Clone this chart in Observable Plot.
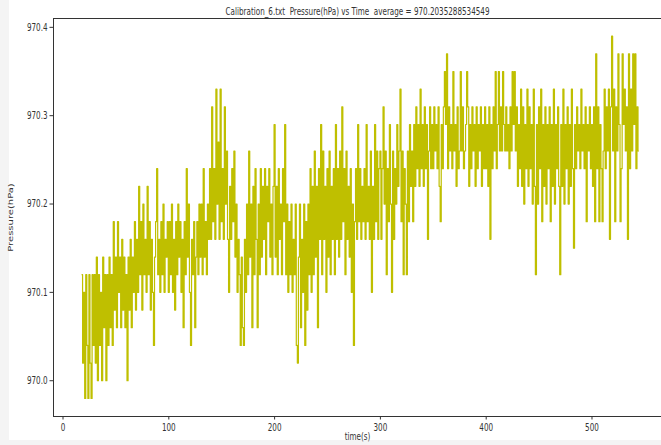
<!DOCTYPE html>
<html>
<head>
<meta charset="utf-8">
<script src="https://cdn.jsdelivr.net/npm/d3@7"></script>
<script src="https://cdn.jsdelivr.net/npm/@observablehq/plot@0.6"></script>
<style>
  html, body { margin: 0; padding: 0; }
  body { background: #f4f4f4; }
  #wrap { position: relative; width: 661px; height: 445px; overflow: hidden; }
  #paper { position: absolute; left: 9px; top: 0; width: 652px; height: 440px; background: #ffffff; }
  #chart { position: absolute; left: 0; top: 0; }
  #chart svg { white-space: pre; }
</style>
</head>
<body>
<div id="wrap"><div id="paper"></div><div id="chart"></div></div>
<script>
const T0 = 18;   // first sample time (s)
const DT = 1;    // sample interval (s)

const pressure018 = [
970.12, 970.02, 970.10, 969.98, 970.12, 970.04, 969.98, 970.12, 970.02, 969.98,
970.12, 970.04, 970.12, 970.02, 970.14, 970.00, 970.12, 970.04, 970.10, 970.00,
970.14, 970.06, 970.12, 970.00, 970.12, 970.04, 970.14, 970.06, 970.12, 970.04,
970.18, 970.08, 970.14, 970.06, 970.18, 970.10, 970.14, 970.06, 970.16, 970.08,
970.14, 970.06, 970.12, 970.00, 970.14, 970.08, 970.16, 970.06, 970.14, 970.10,
970.18, 970.08, 970.16, 970.10, 970.22, 970.12, 970.18, 970.08, 970.20, 970.12,
970.16, 970.10, 970.22, 970.12, 970.18, 970.08, 970.16, 970.10, 970.04, 970.14,
970.18, 970.24, 970.12, 970.16, 970.10, 970.18, 970.12, 970.20, 970.10, 970.16,
970.14, 970.18
];
const pressure100 = [
970.10, 970.18, 970.12, 970.20, 970.10, 970.16, 970.08, 970.18, 970.12, 970.20,
970.14, 970.18, 970.10, 970.16, 970.06, 970.18, 970.12, 970.24, 970.14, 970.20,
970.10, 970.04, 970.16, 970.12, 970.18, 970.06, 970.14, 970.18, 970.12, 970.20,
970.14, 970.20, 970.12, 970.24, 970.14, 970.18, 970.12, 970.20, 970.16, 970.24,
970.16, 970.31, 970.18, 970.24, 970.16, 970.33, 970.20, 970.27, 970.16, 970.33,
970.18, 970.24, 970.16, 970.31, 970.20, 970.26, 970.16, 970.10, 970.22, 970.16,
970.24, 970.18, 970.26, 970.14, 970.20, 970.10, 970.16, 970.12, 970.04, 970.14,
970.06, 970.04, 970.16, 970.10, 970.20, 970.12, 970.26, 970.14, 970.20, 970.06,
970.22, 970.12, 970.24, 970.16, 970.06, 970.20, 970.12, 970.24, 970.14, 970.22,
970.16, 970.24, 970.12, 970.22, 970.18, 970.24, 970.14, 970.20, 970.12, 970.22
];
const pressure200 = [
970.29, 970.14, 970.22, 970.12, 970.24, 970.16, 970.20, 970.12, 970.24, 970.18,
970.29, 970.12, 970.20, 970.10, 970.18, 970.12, 970.20, 970.10, 970.16, 970.12,
970.20, 970.04, 970.02, 970.14, 970.20, 970.06, 970.16, 970.10, 970.20, 970.04,
970.18, 970.08, 970.20, 970.12, 970.24, 970.10, 970.22, 970.12, 970.26, 970.14,
970.22, 970.06, 970.24, 970.16, 970.29, 970.12, 970.26, 970.16, 970.22, 970.10,
970.24, 970.14, 970.26, 970.12, 970.22, 970.16, 970.24, 970.12, 970.29, 970.16,
970.24, 970.14, 970.26, 970.16, 970.31, 970.18, 970.24, 970.12, 970.26, 970.16,
970.22, 970.14, 970.24, 970.10, 970.20, 970.04, 970.18, 970.24, 970.16, 970.29,
970.18, 970.24, 970.16, 970.22, 970.18, 970.24, 970.16, 970.29, 970.18, 970.22,
970.16, 970.26, 970.10, 970.22, 970.16, 970.29, 970.18, 970.26, 970.16, 970.24
];
const pressure300 = [
970.26, 970.16, 970.24, 970.31, 970.20, 970.26, 970.12, 970.24, 970.18, 970.29,
970.20, 970.10, 970.26, 970.16, 970.24, 970.20, 970.29, 970.22, 970.26, 970.33,
970.18, 970.26, 970.12, 970.24, 970.20, 970.12, 970.26, 970.18, 970.29, 970.22,
970.26, 970.18, 970.29, 970.22, 970.31, 970.24, 970.29, 970.22, 970.33, 970.24,
970.29, 970.22, 970.31, 970.24, 970.29, 970.16, 970.26, 970.31, 970.24, 970.29,
970.24, 970.31, 970.26, 970.29, 970.24, 970.31, 970.22, 970.18, 970.29, 970.24,
970.31, 970.35, 970.29, 970.37, 970.24, 970.31, 970.26, 970.29, 970.24, 970.35,
970.26, 970.29, 970.22, 970.31, 970.24, 970.26, 970.35, 970.26, 970.31, 970.24,
970.26, 970.29, 970.35, 970.31, 970.22, 970.29, 970.24, 970.31, 970.26, 970.29,
970.22, 970.31, 970.24, 970.29, 970.26, 970.31, 970.22, 970.29, 970.24, 970.31
];
const pressure400 = [
970.24, 970.29, 970.22, 970.31, 970.16, 970.29, 970.24, 970.31, 970.26, 970.35,
970.24, 970.29, 970.35, 970.26, 970.31, 970.26, 970.35, 970.29, 970.26, 970.31,
970.26, 970.29, 970.24, 970.31, 970.26, 970.35, 970.29, 970.35, 970.26, 970.31,
970.22, 970.29, 970.24, 970.33, 970.22, 970.31, 970.20, 970.29, 970.24, 970.33,
970.22, 970.31, 970.24, 970.29, 970.20, 970.33, 970.22, 970.12, 970.29, 970.20,
970.31, 970.24, 970.33, 970.18, 970.29, 970.22, 970.31, 970.20, 970.29, 970.24,
970.31, 970.18, 970.29, 970.22, 970.33, 970.20, 970.29, 970.24, 970.31, 970.22,
970.12, 970.29, 970.22, 970.33, 970.20, 970.29, 970.24, 970.31, 970.20, 970.29,
970.22, 970.33, 970.24, 970.15, 970.29, 970.24, 970.31, 970.26, 970.29, 970.24,
970.33, 970.26, 970.29, 970.24, 970.31, 970.18, 970.29, 970.26, 970.31, 970.24
];
const pressure500 = [
970.29, 970.22, 970.31, 970.18, 970.37, 970.24, 970.31, 970.18, 970.29, 970.24,
970.18, 970.26, 970.33, 970.24, 970.31, 970.26, 970.33, 970.16, 970.31, 970.39,
970.26, 970.33, 970.18, 970.31, 970.26, 970.37, 970.29, 970.18, 970.24, 970.37,
970.29, 970.33, 970.26, 970.31, 970.16, 970.37, 970.24, 970.33, 970.26, 970.37,
970.29, 970.37, 970.24, 970.31, 970.26
];

const xTicks = [0, 100, 200, 300, 400, 500];
const yTicks = [970.0, 970.1, 970.2, 970.3, 970.4];
const titleText = "Calibration_6.txt  Pressure(hPa) vs Time  average = 970.2035288534549";
const xLabel = "time(s)";
const yLabel = "Pressure(hPa)";

// ---- build table ----
const series = [].concat(pressure018, pressure100, pressure200, pressure300, pressure400, pressure500);
const data = series.map((p, i) => ({time: T0 + i * DT, pressure: p}));

const xDom = [-8.98, 565.7];
const yDom = [969.9595, 970.41];
const ink = "#333333";

const chart = Plot.plot({
  width: 661,
  height: 445,
  marginLeft: 53,
  marginRight: 0,
  marginTop: 18,
  marginBottom: 29,
  style: {background: "transparent", fontFamily: "'DejaVu Sans', sans-serif", fontSize: "10px", color: ink, overflow: "visible"},
  x: {domain: xDom},
  y: {domain: yDom},
  marks: [
    Plot.line(data, {x: "time", y: "pressure", stroke: "#bfbf00", strokeWidth: 1.2, curve: "step"}),
    Plot.ruleY([yDom[0]], {stroke: ink, strokeWidth: 1}),
    Plot.ruleY([yDom[1]], {stroke: ink, strokeWidth: 1}),
    Plot.ruleX([xDom[0]], {stroke: ink, strokeWidth: 1}),
    Plot.axisX(xTicks, {tickSize: 3.5, tickPadding: 3.5, label: null, stroke: ink, fill: ink}),
    Plot.axisY(yTicks, {tickSize: 3.5, tickPadding: 2.5, label: null, tickFormat: d => d.toFixed(1), stroke: ink, fill: ink}),
    Plot.text([titleText], {frameAnchor: "top", lineAnchor: "middle", dy: -7, fill: ink, fontSize: 10}),
    Plot.text([xLabel], {frameAnchor: "bottom", lineAnchor: "middle", dy: 20, fill: ink, fontSize: 10}),
    Plot.text([yLabel], {frameAnchor: "left", lineAnchor: "middle", textAnchor: "middle", dx: -43, rotate: -90, fill: ink, fontSize: 10})
  ]
});
document.getElementById("chart").appendChild(chart);

// the reference image is horizontally condensed: narrow the texts to match
const SQUEEZE = 0.72;
chart.querySelectorAll("text").forEach(t => {
  if (t.textContent === yLabel) {
    const tr = t.getAttribute("transform") || "";
    if (tr.includes("rotate")) t.setAttribute("transform", tr.replace("rotate", `scale(${SQUEEZE},1) rotate`));
    return;
  }
  const len = t.getComputedTextLength();
  if (len > 0) {
    t.setAttribute("textLength", (len * SQUEEZE).toFixed(2));
    t.setAttribute("lengthAdjust", "spacingAndGlyphs");
  }
});
</script>
</body>
</html>
